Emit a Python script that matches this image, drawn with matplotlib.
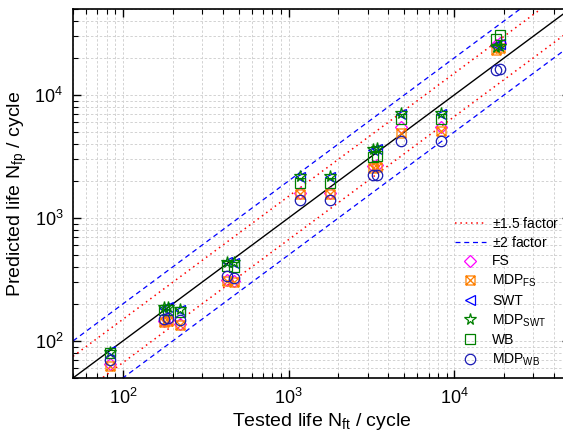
import numpy as np
import matplotlib
matplotlib.use("Agg")
import matplotlib.pyplot as plt
from matplotlib.path import Path
from matplotlib.ticker import LogLocator, NullFormatter

plt.rcParams["font.family"] = ["Liberation Sans", "DejaVu Sans"]
plt.rcParams["mathtext.fontset"] = "custom"
plt.rcParams["mathtext.rm"] = "Liberation Sans"
plt.rcParams["mathtext.it"] = "Liberation Sans:italic"
plt.rcParams["mathtext.bf"] = "Liberation Sans:bold"

# tested life of each specimen (cycles)
tested = [84, 177, 186, 222, 424, 470, 1180, 1770, 3240, 3400, 4800, 8300, 17800, 18800]

# predicted lives for each model (cycles)
pred_fs = [65, 145, 148, 138, 312, 305, 1610, 1610, 2660, 2700, 5530, 5530, 25500, 26500]
pred_mdp_fs = [63, 142, 145, 136, 305, 300, 1560, 1560, 2560, 2600, 4950, 5050, 23200, 24000]
pred_swt = [83, 186, 188, 180, 440, 432, 2150, 2150, 3600, 3620, 7000, 7000, 25500, 26000]
pred_mdp_swt = [82, 190, 190, 183, 440, 440, 2200, 2200, 3650, 3700, 7100, 7100, 24500, 25000]
pred_wb = [80, 178, 180, 173, 410, 400, 1940, 1940, 3160, 3200, 6400, 6400, 28500, 30500]
pred_mdp_wb = [70, 152, 155, 148, 336, 324, 1410, 1410, 2250, 2250, 4190, 4190, 15900, 16400]

x_lim = (50, 50000)
y_lim = (50, 50000)

# square with a cross inside
boxx = Path(
    [(-1, -1), (1, -1), (1, 1), (-1, 1), (-1, -1), (-1, -1), (1, 1), (-1, 1), (1, -1)],
    [Path.MOVETO, Path.LINETO, Path.LINETO, Path.LINETO, Path.CLOSEPOLY,
     Path.MOVETO, Path.LINETO, Path.MOVETO, Path.LINETO],
)

fig = plt.figure(figsize=(5.63, 4.41), dpi=100)
ax = fig.add_axes([73 / 563, 63 / 441, 497 / 563, 369 / 441])

ref = np.array(x_lim, dtype=float)
ax.plot(ref, ref, color="black", lw=1.0, zorder=2)
ax.plot(ref, ref * 1.5, color="red", ls=(0, (1, 2.5)), lw=1.1, zorder=2,
        label=r"$\pm$1.5 factor")
ax.plot(ref, ref / 1.5, color="red", ls=(0, (1, 2.5)), lw=1.1, zorder=2)
ax.plot(ref, ref * 2, color="blue", ls=(0, (4, 3)), lw=0.9, zorder=2,
        label=r"$\pm$2 factor")
ax.plot(ref, ref / 2, color="blue", ls=(0, (4, 3)), lw=0.9, zorder=2)

ms = 7
mk = dict(ls="none", fillstyle="none", markeredgewidth=0.9, zorder=3)
ax.plot(tested, pred_fs, marker="D", ms=6, color="#ff00ff", label="FS", **mk)
ax.plot(tested, pred_mdp_fs, marker=boxx, ms=6.5, color="#ff8000",
        label=r"MDP$_{\mathrm{FS}}$", **mk)
ax.plot(tested, pred_swt, marker="<", ms=ms, color="blue", label="SWT", **mk)
ax.plot(tested, pred_mdp_swt, marker="*", ms=8.5, color="#008000",
        label=r"MDP$_{\mathrm{SWT}}$", **mk)
ax.plot(tested, pred_wb, marker="s", ms=ms, color="#008000", label="WB", **mk)
ax.plot(tested, pred_mdp_wb, marker="o", ms=ms + 0.5, color="#1a1ab4",
        label=r"MDP$_{\mathrm{WB}}$", **mk)

ax.set_xscale("log")
ax.set_yscale("log")
ax.set_xlim(*x_lim)
ax.set_ylim(*y_lim)

for axis in (ax.xaxis, ax.yaxis):
    axis.set_major_locator(LogLocator(base=10))
    axis.set_minor_locator(LogLocator(base=10, subs=np.arange(2, 10)))
    axis.set_minor_formatter(NullFormatter())

ax.grid(True, which="both", color="#d2d2d2", ls=(0, (2.5, 2)), lw=0.7, zorder=0)
ax.tick_params(which="both", direction="in", top=True, right=True, labelsize=13)
ax.tick_params(which="major", length=6, width=1.0, pad=7)
ax.tick_params(which="minor", length=3.5, width=0.8)
for s in ax.spines.values():
    s.set_linewidth(1.2)

ax.set_xlabel(r"Tested life N$_{\mathrm{ft}}$ / cycle", fontsize=14, labelpad=2)
ax.set_ylabel(r"Predicted life N$_{\mathrm{fp}}$ / cycle", fontsize=14, labelpad=4)

ax.legend(loc="lower left", bbox_to_anchor=(0.752, 0.005), frameon=False,
          fontsize=10, handlelength=2.2, handletextpad=0.45, labelspacing=0.32,
          borderaxespad=0.2)

fig.savefig("out.png", dpi=100)
